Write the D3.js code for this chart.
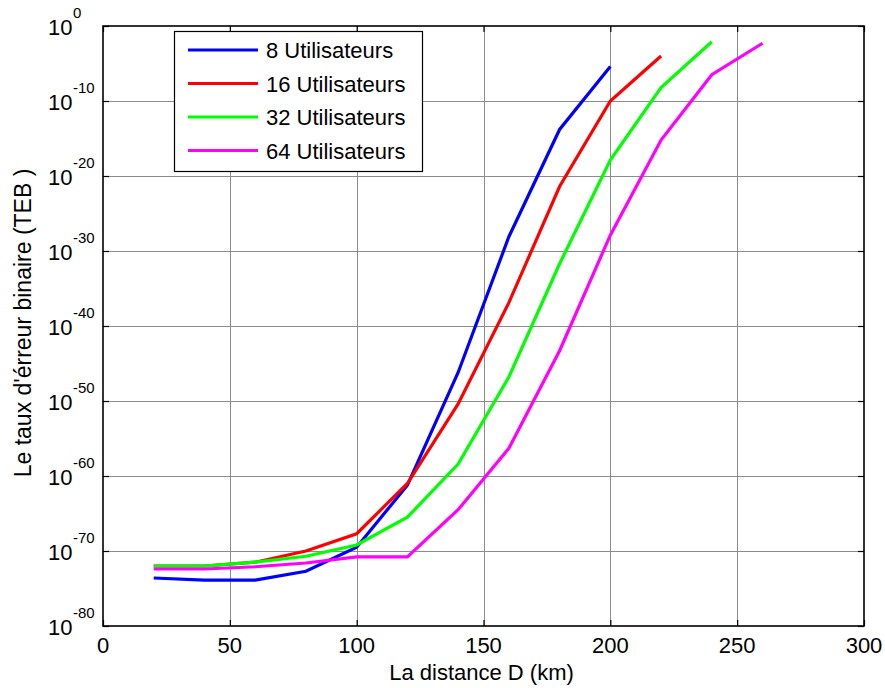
<!DOCTYPE html>
<html>
<head>
<meta charset="utf-8">
<script src="https://cdn.jsdelivr.net/npm/d3@7"></script>
<style>
  body { margin: 0; background: #fff; }
  svg { display: block; font-family: "Liberation Sans", Arial, Helvetica, sans-serif; }
</style>
</head>
<body>
<svg id="chart" width="885" height="688"></svg>
<script>
// ---- Data ----
const distances8  = [20, 40, 60, 80, 100, 120, 140, 160, 180, 200];
const ber8        = [2.5e-74, 1.3e-74, 1.3e-74, 2e-73, 3.2e-70, 6e-62, 6.3e-47, 8e-29, 1.6e-14, 4e-6];

const distances16 = [20, 40, 60, 80, 100, 120, 140, 160, 180, 200, 220];
const ber16       = [1e-72, 1e-72, 3.2e-72, 1e-70, 2e-68, 1e-61, 4e-51, 1.3e-37, 4e-22, 1e-10, 1e-4];

const distances32 = [20, 40, 60, 80, 100, 120, 140, 160, 180, 200, 220, 240];
const ber32       = [1e-72, 1e-72, 3.2e-72, 2e-71, 6.3e-70, 3.2e-66, 4e-59, 1.6e-47, 2e-32, 1.3e-18, 6.3e-9, 8e-3];

const distances64 = [20, 40, 60, 80, 100, 120, 140, 160, 180, 200, 220, 240, 260];
const ber64       = [4e-73, 4e-73, 8e-73, 2.5e-72, 1.6e-71, 1.6e-71, 3.2e-65, 5e-57, 5e-44, 1.3e-28, 6.3e-16, 3.2e-7, 5e-3];

const seriesNames  = ["8 Utilisateurs", "16 Utilisateurs", "32 Utilisateurs", "64 Utilisateurs"];
const seriesColors = ["#0000ff", "#ff0000", "#00ff00", "#ff00ff"];

const xTicks = [0, 50, 100, 150, 200, 250, 300];
const yTickExponents = [0, -10, -20, -30, -40, -50, -60, -70, -80];

const xLabel = "La distance D (km)";
const yLabel = "Le taux d'érreur binaire (TEB )";

// ---- Layout ----
const svg = d3.select("#chart");
const pLeft = 103, pRight = 864, pTop = 26, pBottom = 626;

const x = d3.scaleLinear().domain([0, 300]).range([pLeft, pRight]);
const y = d3.scaleLog().domain([1e-80, 1]).range([pBottom, pTop]);

const series = [
  { name: seriesNames[0], color: seriesColors[0], xs: distances8,  ys: ber8 },
  { name: seriesNames[1], color: seriesColors[1], xs: distances16, ys: ber16 },
  { name: seriesNames[2], color: seriesColors[2], xs: distances32, ys: ber32 },
  { name: seriesNames[3], color: seriesColors[3], xs: distances64, ys: ber64 }
];

const yTickValues = yTickExponents.map(e => Math.pow(10, e));

// Grid
const grid = svg.append("g").attr("stroke", "#8c8c8c").attr("stroke-width", 1).attr("shape-rendering", "crispEdges");
grid.selectAll(".gx").data(xTicks.slice(1, -1)).enter().append("line")
  .attr("x1", d => Math.round(x(d)) + 0.5).attr("x2", d => Math.round(x(d)) + 0.5)
  .attr("y1", pTop).attr("y2", pBottom);
grid.selectAll(".gy").data(yTickValues.slice(1, -1)).enter().append("line")
  .attr("y1", d => Math.round(y(d)) + 0.5).attr("y2", d => Math.round(y(d)) + 0.5)
  .attr("x1", pLeft).attr("x2", pRight);

// Axes with inward ticks (MATLAB style, box on)
const tickLen = 6;
const xAxisB = d3.axisBottom(x).tickValues(xTicks).tickSize(-tickLen).tickFormat("");
const xAxisT = d3.axisTop(x).tickValues(xTicks).tickSize(-tickLen).tickFormat("");
const yAxisL = d3.axisLeft(y).tickValues(yTickValues).tickSize(-tickLen).tickFormat("");
const yAxisR = d3.axisRight(y).tickValues(yTickValues).tickSize(-tickLen).tickFormat("");

function styleAxis(g) {
  g.select(".domain").remove();
  g.selectAll(".tick line").attr("stroke", "#000").attr("stroke-width", 1.2);
}
svg.append("g").attr("transform", `translate(0,${pBottom})`).call(xAxisB).call(styleAxis);
svg.append("g").attr("transform", `translate(0,${pTop})`).call(xAxisT).call(styleAxis);
svg.append("g").attr("transform", `translate(${pLeft},0)`).call(yAxisL).call(styleAxis);
svg.append("g").attr("transform", `translate(${pRight},0)`).call(yAxisR).call(styleAxis);

// Box
svg.append("rect").attr("x", pLeft).attr("y", pTop).attr("width", pRight - pLeft).attr("height", pBottom - pTop)
  .attr("fill", "none").attr("stroke", "#000").attr("stroke-width", 1.6);

// X tick labels
svg.append("g").selectAll("text").data(xTicks).enter().append("text")
  .attr("x", d => x(d)).attr("y", 653)
  .attr("text-anchor", "middle").attr("font-size", 22).attr("fill", "#000")
  .text(d => d);

// Y tick labels as 10^e
const yl = svg.append("g").selectAll("g").data(yTickExponents).enter().append("g");
yl.append("text").attr("x", 48).attr("y", d => y(Math.pow(10, d)) + 9)
  .attr("font-size", 22).attr("fill", "#000").text("10");
yl.append("text").attr("x", 73).attr("y", d => y(Math.pow(10, d)) - 8)
  .attr("font-size", 15).attr("fill", "#000").text(d => d);

// Lines
const line = d3.line().x(d => x(d[0])).y(d => y(d[1]));
svg.append("g").selectAll("path").data(series).enter().append("path")
  .attr("d", s => line(s.xs.map((v, i) => [v, s.ys[i]])))
  .attr("fill", "none").attr("stroke", s => s.color).attr("stroke-width", 3.2)
  .attr("stroke-linejoin", "miter");

// Legend
const lg = svg.append("g");
lg.append("rect").attr("x", 174.5).attr("y", 31.5).attr("width", 248).attr("height", 140)
  .attr("fill", "#fff").attr("stroke", "#000").attr("stroke-width", 1.2);
const entries = lg.selectAll(".entry").data(series).enter().append("g")
  .attr("transform", (d, i) => `translate(0,${50 + i * 33.5})`);
entries.append("line").attr("x1", 188).attr("x2", 258).attr("y1", 0).attr("y2", 0)
  .attr("stroke", d => d.color).attr("stroke-width", 3.2);
entries.append("text").attr("x", 266).attr("y", 8).attr("font-size", 22).attr("fill", "#000")
  .text(d => d.name);

// Axis titles
svg.append("text").attr("x", (pLeft + pRight) / 2 - 2).attr("y", 680)
  .attr("text-anchor", "middle").attr("font-size", 22).attr("fill", "#000").text(xLabel);
svg.append("text").attr("transform", `translate(31,${(pTop + pBottom) / 2 - 3}) rotate(-90)`)
  .attr("text-anchor", "middle").attr("font-size", 23).attr("fill", "#000").text(yLabel);
</script>
</body>
</html>
